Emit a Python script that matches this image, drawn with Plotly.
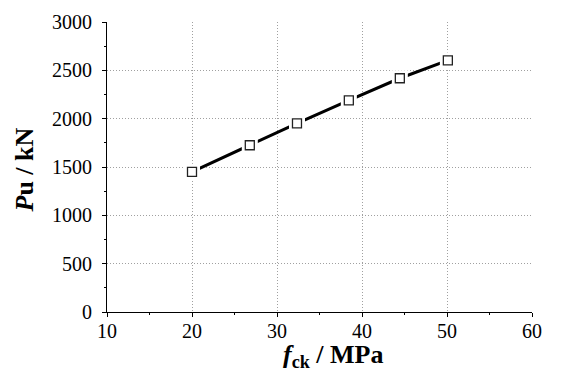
import plotly.graph_objects as go

fck = [20.0, 26.8, 32.35, 38.45, 44.45, 50.1]
pu = [1450, 1725, 1952, 2190, 2418, 2603]

x_ticks = [10, 20, 30, 40, 50, 60]
y_ticks = [0, 500, 1000, 1500, 2000, 2500, 3000]

FONT = "Liberation Serif, Times New Roman, serif"
TICKFONT = dict(family=FONT, size=20, color="black")

fig = go.Figure()
fig.add_trace(go.Scatter(x=fck, y=pu, mode="lines",
                         line=dict(color="black", width=3), showlegend=False, hoverinfo="skip"))
# white halo to create gaps around markers
fig.add_trace(go.Scatter(x=fck, y=pu, mode="markers",
                         marker=dict(symbol="square", size=16, color="white", line=dict(width=0)),
                         showlegend=False, hoverinfo="skip"))
fig.add_trace(go.Scatter(x=fck, y=pu, mode="markers",
                         marker=dict(symbol="square", size=9, color="white",
                                     line=dict(color="#222", width=1.3)),
                         showlegend=False))

grid = dict(showgrid=True, gridcolor="#a0a0a0", griddash="1px,2px", gridwidth=1)
line = dict(showline=True, linecolor="black", linewidth=1.2, zeroline=False,
            ticks="outside", ticklen=4, tickwidth=1.2, tickcolor="black")

fig.update_layout(
    width=561, height=374,
    margin=dict(l=107, r=29, t=22, b=62),
    plot_bgcolor="white", paper_bgcolor="white",
    font=dict(family=FONT, size=20, color="black"),
    xaxis=dict(range=[10, 60], tickvals=x_ticks, ticktext=[str(v) for v in x_ticks],
               tickfont=TICKFONT, ticklabelstandoff=-3,
               minor=dict(ticks="outside", ticklen=2, dtick=5, tick0=0, tickcolor="black", showgrid=False),
               **grid, **line),
    yaxis=dict(range=[0, 3000], tickvals=y_ticks, ticktext=[str(v) for v in y_ticks],
               tickfont=TICKFONT, ticklabelstandoff=6,
               minor=dict(ticks="outside", ticklen=2, dtick=250, tick0=0, tickcolor="black", showgrid=False),
               **grid, **line),
    annotations=[
        dict(text="<b><i>f</i><sub>ck</sub> / MPa</b>", xref="paper", yref="paper",
             x=0.5, y=0, yshift=-26, xanchor="center", yanchor="top", showarrow=False,
             xshift=14, font=dict(family=FONT, size=26, color="black")),
        dict(text="<b><i>P</i>u / kN</b>", xref="paper", yref="paper",
             x=0, y=0.5, xshift=-67, yshift=-3, xanchor="right", yanchor="middle", textangle=-90,
             showarrow=False, font=dict(family=FONT, size=26, color="black")),
    ],
)

fig.write_html("out.html", config={"displayModeBar": False},
               post_script="document.body.style.margin='0';document.body.style.overflow='hidden';")
